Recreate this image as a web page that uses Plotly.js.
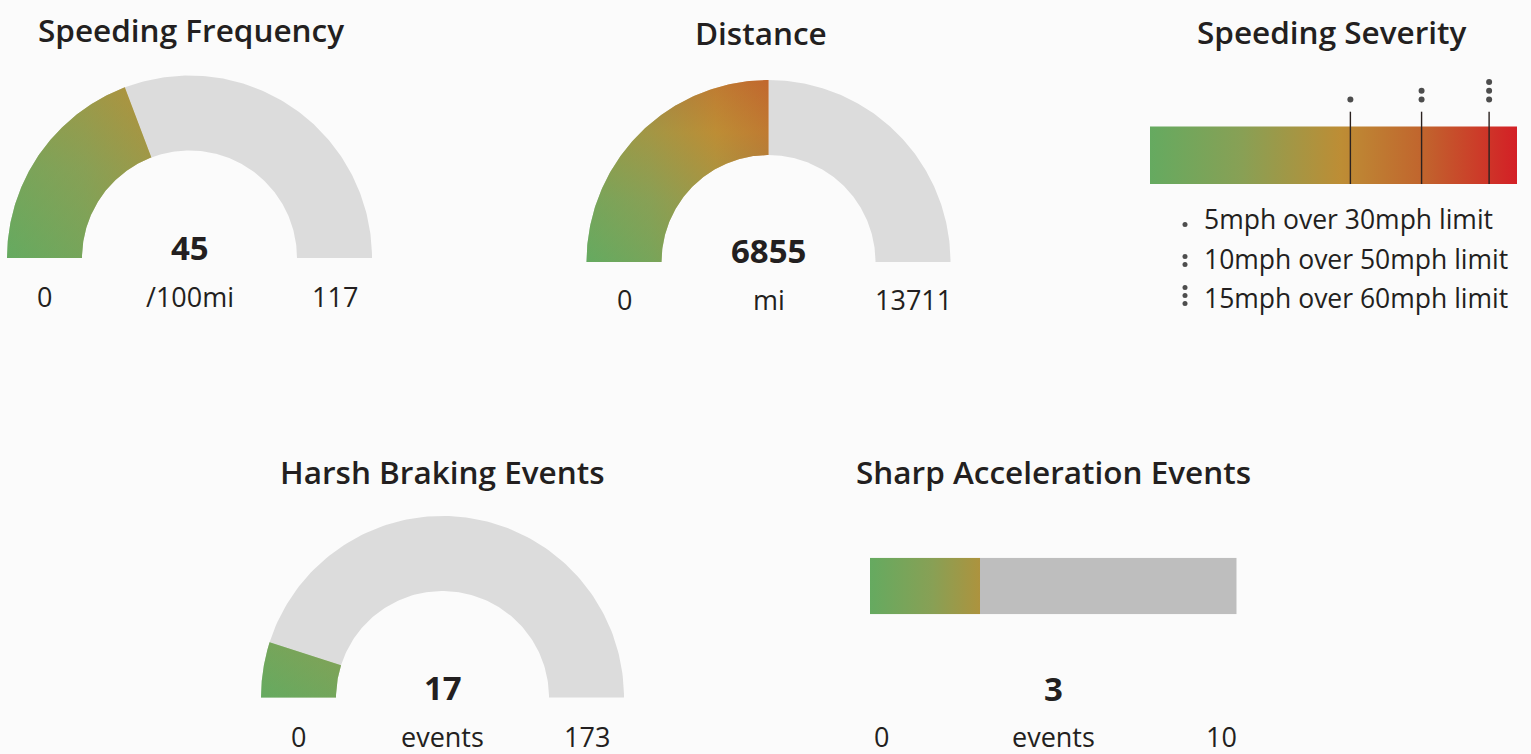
<!DOCTYPE html>
<html><head><meta charset="utf-8">
<script src="https://cdn.plot.ly/plotly-3.0.1.min.js"></script>
<style>html,body{margin:0;padding:0;background:#fbfbfb;} #chart{width:1531px;height:754px;}</style>
</head><body><div id="chart"></div>
<script>
// ---------------- data ----------------
const gaugeTitles = ['Speeding Frequency', 'Distance', 'Harsh Braking Events'];
const gaugeValues = [45, 6855, 17];
const gaugeMins   = [0, 0, 0];
const gaugeMaxs   = [117, 13711, 173];
const gaugeUnits  = ['/100mi', 'mi', 'events'];

const severityTitle  = 'Speeding Severity';
const severityLabels = ['5mph over 30mph limit', '10mph over 50mph limit', '15mph over 60mph limit'];
const severityMarks  = [54.6, 74.0, 92.4];   // position along a 0–100 severity scale
const severityDots   = [1, 2, 3];

const accelTitle = 'Sharp Acceleration Events';
const accelValue = 3;
const accelMin   = 0;
const accelMax   = 10;
const accelUnit  = 'events';

// ---------------- layout / style ----------------
const W = 1531, H = 754;
const FONT = 'Open Sans';
const TXT = '#231f20';
const GREEN = '#65aa60';
const GRAY_ARC = '#dcdcdc';
const GRAY_BAR = '#bebebe';
const TITLE_SIZE = 31.5;
const sevScale = [[0, '#65aa60'], [0.25, '#88a055'], [0.52, '#bd8d35'], [0.75, '#c1632d'], [1, '#d41f26']];
const gaugeGeom = [
  {cx: 189.5, cy: 258,   R: 182.5, r: 107.5, titleX: 190.5, titleY: 30,  valueY: 247, labelY: 296, colorEnd: 0.47},
  {cx: 768.5, cy: 262,   R: 182,   r: 107,   titleX: 760.5, titleY: 33,  valueY: 251, labelY: 299, colorEnd: 0.73},
  {cx: 442.5, cy: 697.5, R: 181.5, r: 106.5, titleX: 442.5, titleY: 471, valueY: 687, labelY: 736, colorEnd: 0.22}
];
const sevGeom = {x0: 1150, x1: 1517, top: 126.5, bottom: 184, lineTop: 111.7, dotY: 99.5, dotGap: 8.7,
                 titleX: 1331.5, titleY: 32, legX: 1185, legTextX: 1202, legY: [219, 259, 298]};
const accGeom = {x0: 870, x1: 1236.7, top: 557.7, bottom: 614.3, titleX: 1053.5, titleY: 471, valueY: 688, labelY: 736, colorEnd: 0.44};

const px2x = p => p / W;
const px2y = p => 1 - p / H;

function hex2rgb(h) { return [1, 3, 5].map(i => parseInt(h.substr(i, 2), 16)); }
function rgb2hex(c) { return '#' + c.map(v => Math.round(v).toString(16).padStart(2, '0')).join(''); }
function sampleScale(sc, t) {
  for (let i = 1; i < sc.length; i++) {
    if (t <= sc[i][0]) {
      const u = (t - sc[i - 1][0]) / (sc[i][0] - sc[i - 1][0]);
      const a = hex2rgb(sc[i - 1][1]), b = hex2rgb(sc[i][1]);
      return rgb2hex(a.map((v, k) => v + (b[k] - v) * u));
    }
  }
  return sc[sc.length - 1][1];
}
// portion [0, pEnd] of the severity scale, rescaled to [0, 1]
function subScale(pEnd) {
  const out = sevScale.filter(s => s[0] < pEnd).map(s => [s[0] / pEnd, s[1]]);
  out.push([1, sampleScale(sevScale, pEnd)]);
  return out;
}

const traces = [];
const layout = {
  width: W, height: H, margin: {l: 0, r: 0, t: 0, b: 0},
  paper_bgcolor: '#fbfbfb', plot_bgcolor: 'rgba(0,0,0,0)',
  showlegend: false, annotations: [], hovermode: false
};
function ax(domain, range) {
  return {domain: domain, range: range, visible: false, showgrid: false, zeroline: false, fixedrange: true};
}
function ann(text, xpx, ypx, size, weight, anchor) {
  layout.annotations.push({
    xref: 'paper', yref: 'paper', x: px2x(xpx), y: px2y(ypx), text: text, showarrow: false,
    xanchor: anchor || 'center', yanchor: 'middle',
    font: {family: FONT, size: size, color: TXT, weight: weight || 400}
  });
}
function sector(a0, a1, R, r, n) {
  const xs = [], ys = [];
  for (let i = 0; i <= n; i++) { const a = a0 + (a1 - a0) * i / n; xs.push(R * Math.cos(a)); ys.push(R * Math.sin(a)); }
  for (let i = n; i >= 0; i--) { const a = a0 + (a1 - a0) * i / n; xs.push(r * Math.cos(a)); ys.push(r * Math.sin(a)); }
  xs.push(xs[0]); ys.push(ys[0]);
  return {xs, ys};
}

// ---- gauges ----
gaugeValues.forEach((v, i) => {
  const g = gaugeGeom[i];
  const k = i + 1, xa = 'x' + k, ya = 'y' + k;
  const pad = 4;
  layout['xaxis' + k] = ax([px2x(g.cx - g.R - pad), px2x(g.cx + g.R + pad)], [-(g.R + pad), g.R + pad]);
  layout['yaxis' + k] = ax([px2y(g.cy + pad), px2y(g.cy - g.R - pad)], [-pad, g.R + pad]);
  layout['xaxis' + k].anchor = ya; layout['yaxis' + k].anchor = xa;
  const f = (v - gaugeMins[i]) / (gaugeMaxs[i] - gaugeMins[i]);
  const aSplit = Math.PI * (1 - f);
  const rest = sector(aSplit, 0, g.R, g.r, 120);
  traces.push({type: 'scatter', mode: 'lines', x: rest.xs, y: rest.ys, xaxis: xa, yaxis: ya,
    fill: 'toself', fillcolor: GRAY_ARC, line: {width: 0, color: GRAY_ARC}, hoverinfo: 'skip'});
  const val = sector(Math.PI, aSplit, g.R, g.r, 120);
  const cs = subScale(g.colorEnd);
  // horizontal gradient + half-transparent vertical gradient = diagonal gradient
  traces.push({type: 'scatter', mode: 'lines', x: val.xs, y: val.ys, xaxis: xa, yaxis: ya,
    fill: 'toself', line: {width: 0, color: GREEN},
    fillgradient: {type: 'horizontal', colorscale: cs}, hoverinfo: 'skip'});
  traces.push({type: 'scatter', mode: 'lines', x: val.xs, y: val.ys, xaxis: xa, yaxis: ya,
    fill: 'toself', line: {width: 0, color: GREEN}, opacity: 0.5,
    fillgradient: {type: 'vertical', colorscale: cs}, hoverinfo: 'skip'});
  ann(gaugeTitles[i], g.titleX, g.titleY, TITLE_SIZE, 600);
  ann(String(v), g.cx, g.valueY, 33, 700);
  ann(String(gaugeMins[i]), g.cx - (g.R + g.r) / 2, g.labelY, 27, 400);
  ann(gaugeUnits[i], g.cx, g.labelY, 27, 400);
  ann(String(gaugeMaxs[i]), g.cx + (g.R + g.r) / 2, g.labelY, 27, 400);
});

// ---- speeding severity bar ----
const s = sevGeom;
layout.xaxis4 = ax([px2x(s.x0), px2x(s.x1)], [0, 100]);
layout.yaxis4 = ax([px2y(s.bottom + 2), px2y(70)], [s.bottom + 2, 70]);
layout.xaxis4.anchor = 'y4'; layout.yaxis4.anchor = 'x4';
traces.push({type: 'scatter', mode: 'lines', x: [0, 100, 100, 0, 0],
  y: [s.top, s.top, s.bottom, s.bottom, s.top], xaxis: 'x4', yaxis: 'y4',
  fill: 'toself', line: {width: 0, color: GREEN},
  fillgradient: {type: 'horizontal', colorscale: sevScale}, hoverinfo: 'skip'});
severityMarks.forEach((m, i) => {
  traces.push({type: 'scatter', mode: 'lines', x: [m, m], y: [s.lineTop, s.bottom], xaxis: 'x4', yaxis: 'y4',
    line: {color: '#2b2220', width: 1.4}, hoverinfo: 'skip'});
  const dx = [], dy = [];
  for (let d = 0; d < severityDots[i]; d++) { dx.push(m); dy.push(s.dotY - d * s.dotGap); }
  traces.push({type: 'scatter', mode: 'markers', x: dx, y: dy, xaxis: 'x4', yaxis: 'y4',
    marker: {size: 6, color: '#4d4d4d'}, cliponaxis: false, hoverinfo: 'skip'});
});
ann(severityTitle, s.titleX, s.titleY, TITLE_SIZE, 600);

// legend
layout.xaxis5 = ax([px2x(1170), px2x(1525)], [1170, 1525]);
layout.yaxis5 = ax([px2y(320), px2y(200)], [320, 200]);
layout.xaxis5.anchor = 'y5'; layout.yaxis5.anchor = 'x5';
severityLabels.forEach((lab, i) => {
  const dx = [], dy = [];
  for (let d = 0; d < severityDots[i]; d++) { dx.push(s.legX); dy.push(s.legY[i] + 5.5 - d * 8); }
  traces.push({type: 'scatter', mode: 'markers', x: dx, y: dy, xaxis: 'x5', yaxis: 'y5',
    marker: {size: 5, color: '#4d4d4d'}, cliponaxis: false, hoverinfo: 'skip'});
  ann(lab, s.legTextX, s.legY[i], 26.5, 400, 'left');
});

// ---- sharp acceleration bar ----
const a = accGeom;
layout.xaxis6 = ax([px2x(a.x0), px2x(a.x1)], [accelMin, accelMax]);
layout.yaxis6 = ax([px2y(a.bottom), px2y(a.top)], [0, 1]);
layout.xaxis6.anchor = 'y6'; layout.yaxis6.anchor = 'x6';
traces.push({type: 'scatter', mode: 'lines', x: [accelValue, accelMax, accelMax, accelValue, accelValue],
  y: [0, 0, 1, 1, 0], xaxis: 'x6', yaxis: 'y6', fill: 'toself', fillcolor: GRAY_BAR,
  line: {width: 0, color: GRAY_BAR}, hoverinfo: 'skip'});
traces.push({type: 'scatter', mode: 'lines', x: [accelMin, accelValue, accelValue, accelMin, accelMin],
  y: [0, 0, 1, 1, 0], xaxis: 'x6', yaxis: 'y6', fill: 'toself', line: {width: 0, color: GREEN},
  fillgradient: {type: 'horizontal', colorscale: subScale(a.colorEnd)}, hoverinfo: 'skip'});
const acx = (a.x0 + a.x1) / 2;
ann(accelTitle, a.titleX, a.titleY, TITLE_SIZE, 600);
ann(String(accelValue), acx, a.valueY, 33, 700);
ann(String(accelMin), a.x0 + 11, a.labelY, 27, 400);
ann(accelUnit, acx, a.labelY, 27, 400);
ann(String(accelMax), a.x1 - 15, a.labelY, 27, 400);

Plotly.newPlot('chart', traces, layout, {displayModeBar: false, staticPlot: true});
</script></body></html>
